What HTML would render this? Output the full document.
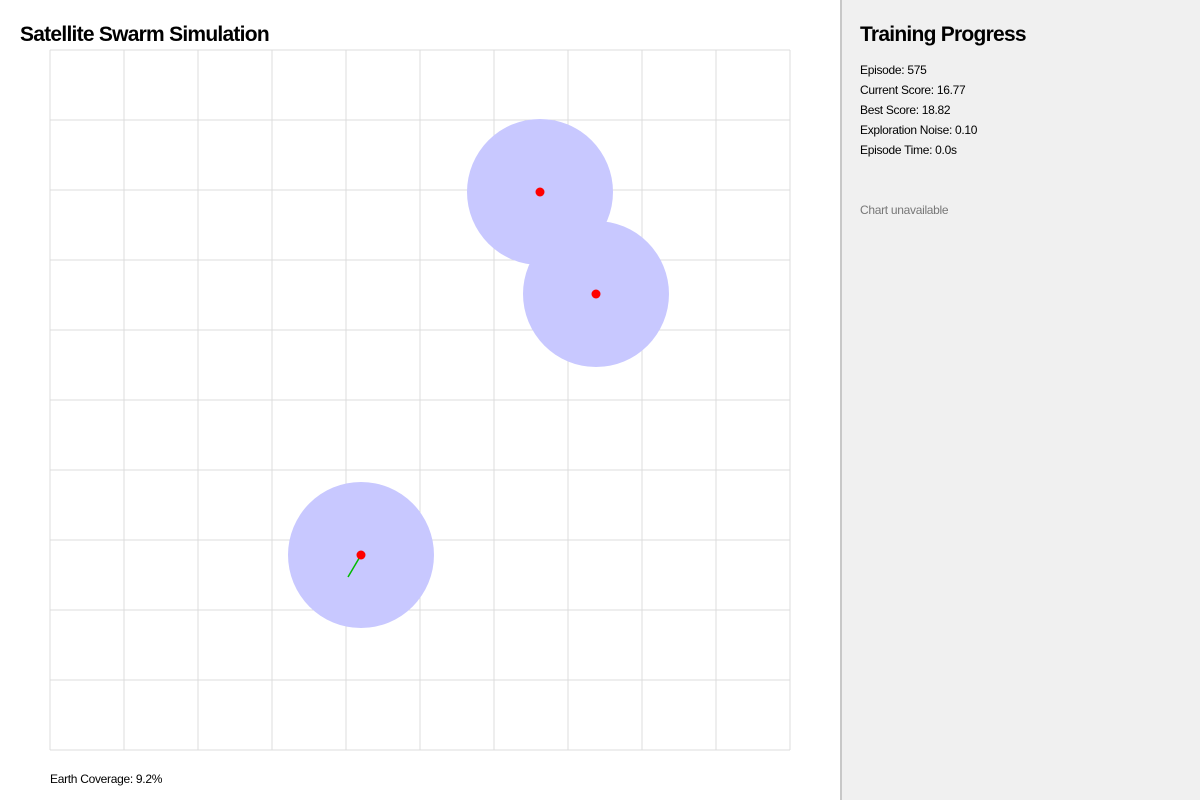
<!DOCTYPE html>
<html><head><meta charset="utf-8"><style>
body{margin:0;width:1200px;height:800px;overflow:hidden;font-family:"Liberation Sans",sans-serif;background:#fff;position:relative}
#left{position:absolute;left:0;top:0;width:840px;height:800px;background:#fff}
#div{position:absolute;left:840px;top:0;width:2px;height:800px;background:#c8c8c8}
#right{position:absolute;left:842px;top:0;width:358px;height:800px;background:#f0f0f0}
h1{position:absolute;margin:0;font-size:21px;font-weight:bold;color:#000;letter-spacing:-0.75px}
.stat{position:absolute;left:18px;font-size:12px;color:#000;letter-spacing:-0.3px}
</style></head><body>
<div id="left">
<h1 style="left:20px;top:23px">Satellite Swarm Simulation</h1>
<svg id="sim" width="840" height="800" style="position:absolute;left:0;top:0"></svg>
<div style="position:absolute;left:50px;top:772px;font-size:12px;letter-spacing:-0.3px">Earth Coverage: 9.2%</div>
</div>
<div id="div"></div>
<div id="right">
<h1 style="left:18px;top:23px">Training Progress</h1>
<div class="stat" style="top:63px">Episode: 575</div>
<div class="stat" style="top:83px">Current Score: 16.77</div>
<div class="stat" style="top:103px">Best Score: 18.82</div>
<div class="stat" style="top:123px">Exploration Noise: 0.10</div>
<div class="stat" style="top:143px">Episode Time: 0.0s</div>
<div class="stat" style="top:203px;color:#777">Chart unavailable</div>
</div>
<script>
const satX=[540,596,361];
const satY=[192,294,555];
const velX=[0,0,-13];
const velY=[0,0,22];
const coverR=73;
const NS="http://www.w3.org/2000/svg";
const svg=document.getElementById('sim');
function mk(t,a){const e=document.createElementNS(NS,t);for(const k in a)e.setAttribute(k,a[k]);svg.appendChild(e);return e;}
for(let i=0;i<=10;i++){
 const x=50+i*74;
 const l=mk('line',{x1:x,y1:50,x2:x,y2:750,stroke:'#dcdcdc','stroke-width':1});
 
 
 const y=50+i*70;
 const h=mk('line',{x1:50,y1:y,x2:790,y2:y,stroke:'#dcdcdc','stroke-width':1});
 
 
}
for(let i=0;i<satX.length;i++){
 const c=mk('circle',{cx:satX[i],cy:satY[i],r:coverR,fill:'#c8c8ff'});
 
 
}
for(let i=0;i<satX.length;i++){
 if(velX[i]||velY[i]){
  const v=mk('line',{x1:satX[i],y1:satY[i],x2:satX[i]+velX[i],y2:satY[i]+velY[i],stroke:'#00bb00','stroke-width':1.5});
  
  
 }
 const s=mk('circle',{cx:satX[i],cy:satY[i],r:4.5,fill:'#ff0000'});
 
 
}
</script>
</body></html>
